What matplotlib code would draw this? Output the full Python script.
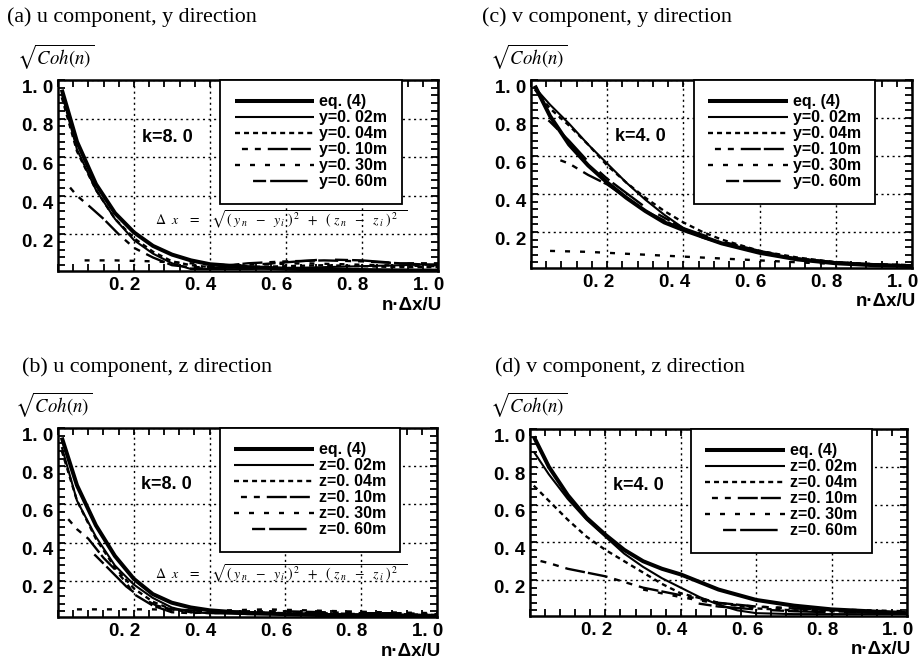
import matplotlib
matplotlib.use('Agg')
import matplotlib.pyplot as plt
from matplotlib.ticker import MultipleLocator
from matplotlib.transforms import ScaledTranslation

plt.rcParams['font.family'] = ['Liberation Sans', 'DejaVu Sans']
plt.rcParams['mathtext.fontset'] = 'stix'
plt.rcParams['lines.scale_dashes'] = False

W, H = 919, 661

# --- data -----------------------------------------------------------------
x_std = [0.01, 0.05, 0.10, 0.15, 0.20, 0.25, 0.30, 0.35, 0.40, 0.50, 0.60, 0.70, 0.80, 0.90, 1.00]

# (a) u component, y direction (k=8.0)
a_eq_y = [0.95, 0.68, 0.46, 0.31, 0.21, 0.14, 0.095, 0.065, 0.045, 0.03, 0.022, 0.018, 0.015, 0.013, 0.012]
a_02_y = [0.93, 0.64, 0.43, 0.28, 0.17, 0.10, 0.05, 0.02, 0.02, 0.02, 0.025, 0.03, 0.035, 0.04, 0.045]
a_04_y = [0.91, 0.63, 0.43, 0.28, 0.18, 0.11, 0.06, 0.04, 0.03, 0.03, 0.035, 0.04, 0.035, 0.03, 0.03]
a_10_x = [0.02, 0.05, 0.08, 0.12, 0.16, 0.20, 0.25, 0.30, 0.35, 0.40, 0.50, 0.60, 0.70, 0.80, 0.90, 1.00]
a_10_y = [0.47, 0.40, 0.35, 0.28, 0.20, 0.13, 0.08, 0.04, 0.03, 0.03, 0.05, 0.06, 0.065, 0.06, 0.05, 0.05]
a_30_x = [0.07, 0.15, 0.25, 0.35, 0.45, 0.55, 0.65, 0.75, 0.85, 1.00]
a_30_y = [0.065, 0.065, 0.06, 0.05, 0.04, 0.045, 0.05, 0.045, 0.04, 0.035]
a_60_x = [0.30, 0.40, 0.50, 0.60, 0.70, 0.80, 0.90, 1.00]
a_60_y = [0.02, 0.025, 0.04, 0.055, 0.07, 0.065, 0.05, 0.04]

# (b) u component, z direction (k=8.0)
b_eq_y = [0.95, 0.70, 0.49, 0.33, 0.21, 0.13, 0.085, 0.06, 0.045, 0.03, 0.025, 0.02, 0.02, 0.018, 0.016]
b_02_y = [0.90, 0.62, 0.43, 0.28, 0.18, 0.11, 0.06, 0.035, 0.03, 0.025, 0.025, 0.02, 0.02, 0.02, 0.02]
b_04_y = [0.88, 0.62, 0.42, 0.27, 0.16, 0.09, 0.05, 0.035, 0.03, 0.035, 0.03, 0.03, 0.025, 0.025, 0.02]
b_10_x = [0.015, 0.05, 0.08, 0.12, 0.15, 0.18, 0.20, 0.25, 0.30, 0.35, 0.40, 0.50, 0.60, 0.70, 0.80, 0.90, 1.00]
b_10_y = [0.55, 0.47, 0.42, 0.32, 0.26, 0.19, 0.13, 0.07, 0.035, 0.03, 0.035, 0.04, 0.04, 0.035, 0.03, 0.03, 0.025]
b_30_x = [0.05, 0.15, 0.25, 0.35, 0.45, 0.55, 0.65, 0.75, 0.85, 1.00]
b_30_y = [0.05, 0.05, 0.05, 0.045, 0.045, 0.05, 0.045, 0.04, 0.035, 0.03]
b_60_x = [0.06, 0.10, 0.14, 0.18, 0.22, 0.26, 0.30, 0.40, 0.50, 0.60, 0.70, 0.80, 0.90, 1.00]
b_60_y = [0.40, 0.33, 0.25, 0.17, 0.11, 0.07, 0.05, 0.04, 0.035, 0.03, 0.025, 0.02, 0.02, 0.02]

# (c) v component, y direction (k=4.0)
c_eq_y = [0.97, 0.81, 0.66, 0.55, 0.46, 0.38, 0.31, 0.25, 0.21, 0.14, 0.09, 0.055, 0.035, 0.025, 0.02]
c_up_x = [0.01, 0.05, 0.10, 0.15, 0.20, 0.25, 0.30, 0.35, 0.40, 0.45, 0.50, 0.60, 0.70, 0.80, 0.90, 1.00]
c_02_y = [0.96, 0.87, 0.77, 0.66, 0.56, 0.46, 0.37, 0.29, 0.22, 0.17, 0.14, 0.09, 0.06, 0.04, 0.03, 0.02]
c_04_y = [0.95, 0.85, 0.76, 0.66, 0.55, 0.46, 0.38, 0.31, 0.25, 0.20, 0.16, 0.10, 0.065, 0.04, 0.03, 0.025]
c_10_x = [0.06, 0.10, 0.15, 0.20, 0.25, 0.30, 0.40, 0.50, 0.60, 0.70, 0.80, 0.90, 1.00]
c_10_y = [0.59, 0.56, 0.50, 0.45, 0.38, 0.31, 0.21, 0.14, 0.09, 0.055, 0.035, 0.025, 0.02]
c_30_x = [0.05, 0.15, 0.25, 0.35, 0.45, 0.55, 0.65, 0.75, 0.85, 1.00]
c_30_y = [0.10, 0.095, 0.085, 0.075, 0.065, 0.055, 0.045, 0.035, 0.03, 0.025]
c_60_x = [0.01, 0.05, 0.10, 0.15, 0.20, 0.30, 0.40, 0.50, 0.60, 0.70, 0.80, 0.90, 1.00]
c_60_y = [0.85, 0.78, 0.68, 0.57, 0.48, 0.33, 0.22, 0.15, 0.10, 0.06, 0.04, 0.03, 0.02]

# (d) v component, z direction (k=4.0)
d_eq_y = [0.96, 0.80, 0.65, 0.53, 0.44, 0.36, 0.30, 0.26, 0.23, 0.15, 0.095, 0.065, 0.045, 0.035, 0.025]
d_02_x = [0.01, 0.05, 0.10, 0.15, 0.20, 0.25, 0.30, 0.35, 0.40, 0.45, 0.50, 0.55, 0.60, 0.70, 0.80, 0.90, 1.00]
d_02_y = [0.88, 0.76, 0.63, 0.52, 0.43, 0.34, 0.27, 0.21, 0.16, 0.11, 0.07, 0.04, 0.025, 0.02, 0.02, 0.02, 0.02]
d_04_y = [0.70, 0.62, 0.52, 0.43, 0.36, 0.30, 0.24, 0.18, 0.13, 0.08, 0.05, 0.04, 0.035, 0.03, 0.025]
d_10_y = [0.31, 0.29, 0.26, 0.24, 0.22, 0.19, 0.16, 0.14, 0.12, 0.08, 0.06, 0.05, 0.04, 0.03, 0.025]
d_30_x = [0.30, 0.40, 0.50, 0.60, 0.70, 0.80, 0.90, 1.00]
d_30_y = [0.15, 0.11, 0.075, 0.06, 0.05, 0.045, 0.04, 0.035]
d_60_x = [0.40, 0.50, 0.60, 0.70, 0.80, 0.90, 1.00]
d_60_y = [0.09, 0.06, 0.045, 0.035, 0.03, 0.03, 0.025]

labels = ['eq. (4)', '{}=0. 02m', '{}=0. 04m', '{}=0. 10m', '{}=0. 30m', '{}=0. 60m']
x_ticks = [0.2, 0.4, 0.6, 0.8, 1.0]
tick_labels = ['0. 2', '0. 4', '0. 6', '0. 8', '1. 0']

# line width (pt) and dash pattern (pt) for each legend entry
styles = [
    (2.9, '-'),
    (1.5, '-'),
    (1.7, (0, (3.6, 2.9))),
    (1.7, (49.6, (4.3, 5, 4.3, 5, 14.4, 2.2, 14.4, 5))),
    (1.7, (0, (3.6, 7.2))),
    (1.7, (39.3, (9.4, 2.9, 27, 13))),
]

SANS = ['Liberation Sans', 'DejaVu Sans']
SERIF = ['Liberation Serif', 'DejaVu Serif']


def fx(px):
    return px / W


def fy(py):
    return 1 - py / H


def plot_panel(fig, box, curves, dname, k_text, title, title_px, ylab_px, formula_y=None):
    left, top, right, bottom = box
    ax = fig.add_axes([fx(left), fy(bottom), (right - left) / W, (bottom - top) / H])

    for (lab, (lw, ls), (xs, ys)) in zip(labels, styles, curves):
        ax.plot(xs, ys, color='black', lw=lw, linestyle=ls, label=lab.format(dname),
                solid_capstyle='butt', dash_capstyle='butt')

    ax.set_xlim(0, 1.0)
    ax.set_ylim(0.01, 1.0)
    ax.set_xticks(x_ticks)
    ax.set_xticklabels(tick_labels)
    ax.set_yticks(x_ticks)
    ax.set_yticklabels(tick_labels)
    ax.xaxis.set_minor_locator(MultipleLocator(0.04))
    ax.yaxis.set_minor_locator(MultipleLocator(0.04))
    ax.tick_params(which='both', direction='in', top=True, right=True,
                   length=5, width=1.3, color='black')
    ax.tick_params(axis='x', pad=4)
    ax.tick_params(axis='y', pad=3.5)
    for lab in ax.get_xticklabels() + ax.get_yticklabels():
        lab.set_fontfamily(SANS)
        lab.set_fontsize(13.5)
        lab.set_fontweight('bold')
    offx = ScaledTranslation(-6.5 / 72, 0, fig.dpi_scale_trans)
    offy = ScaledTranslation(0, -4.5 / 72, fig.dpi_scale_trans)
    for lab in ax.get_xticklabels():
        lab.set_transform(lab.get_transform() + offx)
    for lab in ax.get_yticklabels():
        lab.set_transform(lab.get_transform() + offy)

    ax.grid(True, which='major', color='black', linestyle=(0, (1.5, 2.5)), linewidth=1.0)
    ax.set_axisbelow(True)
    for sp in ax.spines.values():
        sp.set_linewidth(1.8)

    leg = ax.legend(loc='upper left', bbox_to_anchor=(0.427, 1.0), borderaxespad=0,
                    prop={'family': SANS, 'size': 11.5, 'weight': 'bold'},
                    handlelength=5.0, handletextpad=0.3, borderpad=0.9,
                    labelspacing=0.06, fancybox=False, framealpha=1, edgecolor='black')
    leg.get_frame().set_linewidth(1.3)

    ax.text(0.22, 0.70, k_text, transform=ax.transAxes, fontsize=13, fontweight='bold',
            family=SANS, va='center', ha='left')
    if formula_y is not None:
        ax.text(0.255, formula_y,
                r'$\Delta\ \ x\ \ \ =\ \ \ \sqrt{(\ y_{\,n}\ \ -\ \ y_{\,i}\ )^{\,2}\ \ +\ \ (\ z_{\,n}\ \ -\ \ z_{\,i}\ )^{\,2}\ \ }$',
                transform=ax.transAxes, fontsize=10, va='center', ha='left')

    fig.text(fx(right + 4), fy(bottom + 34), 'n·Δx/U', fontsize=13.5, fontweight='bold',
             family=SANS, ha='right', va='center')
    fig.text(fx(title_px[0]), fy(title_px[1]), title, fontsize=15.8, family=SERIF,
             ha='left', va='center')
    fig.text(fx(ylab_px[0]), fy(ylab_px[1]), r'$\sqrt{Coh(n)}$', fontsize=13.5,
             ha='left', va='center')
    return ax


def main():
    fig = plt.figure(figsize=(W / 100, H / 100), dpi=100)

    plot_panel(fig, (58, 80, 438, 271),
               [(x_std, a_eq_y), (x_std, a_02_y), (x_std, a_04_y),
                (a_10_x, a_10_y), (a_30_x, a_30_y), (a_60_x, a_60_y)],
               'y', 'k=8. 0', '(a) u component, y direction', (7, 17), (17, 57), formula_y=0.265)
    plot_panel(fig, (58, 428, 437, 617),
               [(x_std, b_eq_y), (x_std, b_02_y), (x_std, b_04_y),
                (b_10_x, b_10_y), (b_30_x, b_30_y), (b_60_x, b_60_y)],
               'z', 'k=8. 0', '(b) u component, z direction', (22, 367), (15, 405), formula_y=0.23)
    plot_panel(fig, (531, 80, 912, 268),
               [(x_std, c_eq_y), (c_up_x, c_02_y), (c_up_x, c_04_y),
                (c_10_x, c_10_y), (c_30_x, c_30_y), (c_60_x, c_60_y)],
               'y', 'k=4. 0', '(c) v component, y direction', (482, 17), (490, 57))
    plot_panel(fig, (530, 429, 907, 616),
               [(x_std, d_eq_y), (d_02_x, d_02_y), (x_std, d_04_y),
                (x_std, d_10_y), (d_30_x, d_30_y), (d_60_x, d_60_y)],
               'z', 'k=4. 0', '(d) v component, z direction', (495, 367), (490, 405))

    fig.savefig('out.png', dpi=100)


if __name__ == '__main__':
    main()
